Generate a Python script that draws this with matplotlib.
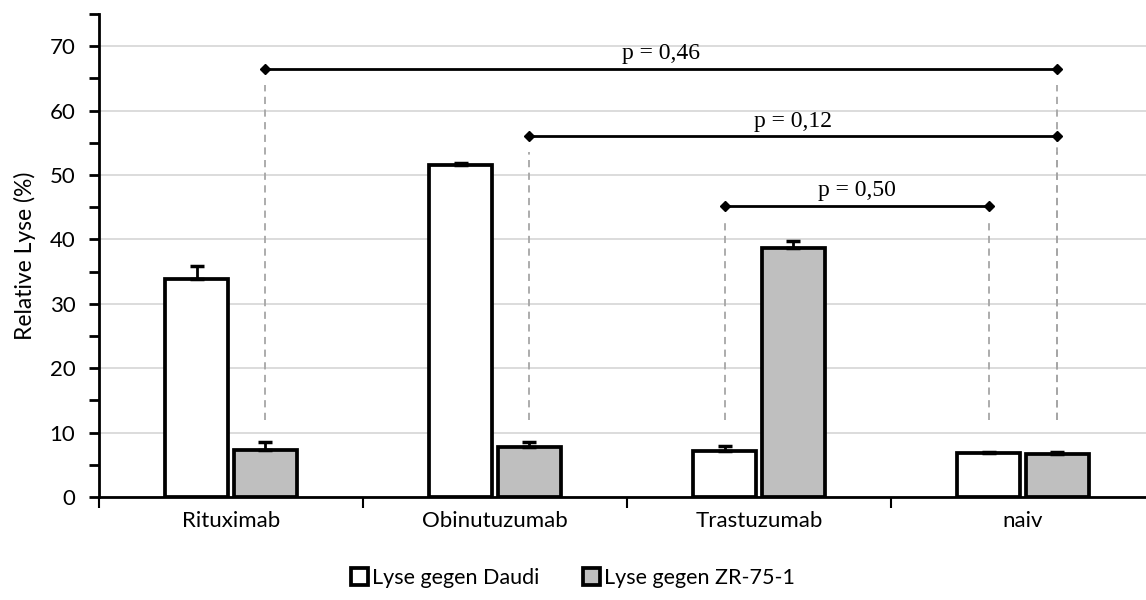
import matplotlib.pyplot as plt
import numpy as np

# data
categories = ['Rituximab', 'Obinutuzumab', 'Trastuzumab', 'naiv']
daudi = [33.8, 51.5, 7.2, 6.8]
daudi_err = [2.0, 0.4, 0.7, 0.2]
zr = [7.3, 7.8, 38.7, 6.6]
zr_err = [1.2, 0.8, 1.0, 0.4]
series_labels = ['Lyse gegen Daudi', 'Lyse gegen ZR-75-1']

# significance brackets: (from category, series), (to category, series), height, label
brackets = [
    ((0, 1), (3, 1), 66.5, 'p = 0,46'),
    ((1, 1), (3, 1), 56.0, 'p = 0,12'),
    ((2, 0), (3, 0), 45.2, 'p = 0,50'),
]

plt.rcParams['font.family'] = ['Lato', 'DejaVu Sans']

fig = plt.figure(figsize=(11.46, 6), dpi=100)
ax = fig.add_axes([99/1146, 103/600, 1056/1146, 483/600])

x = np.arange(len(categories))
w = 0.24
off = 0.13
bars1 = ax.bar(x - off, daudi, w, color='white', edgecolor='black', lw=2.7,
               label=series_labels[0], zorder=3)
bars2 = ax.bar(x + off, zr, w, color='#bfbfbf', edgecolor='black', lw=2.7,
               label=series_labels[1], zorder=3)
ax.errorbar(x - off, daudi, yerr=[np.zeros(4), daudi_err], fmt='none',
            ecolor='black', elinewidth=2, capsize=5, capthick=2.5, zorder=4)
ax.errorbar(x + off, zr, yerr=[np.zeros(4), zr_err], fmt='none',
            ecolor='black', elinewidth=2, capsize=5, capthick=2.5, zorder=4)

offs = [-off, off]
for (c1, s1), (c2, s2), h, txt in brackets:
    x1 = x[c1] + offs[s1]
    x2 = x[c2] + offs[s2]
    for xx in (x1, x2):
        ax.plot([xx, xx], [12, h - 2.5], color='#a6a6a6', ls=(0, (4, 3)), lw=1.3, zorder=2)
    ax.plot([x1, x2], [h, h], color='black', lw=2, marker='D', ms=5, zorder=5)
    ax.text((x1 + x2) / 2, h + 0.7, txt, ha='center', va='bottom',
            fontsize=17, family=['Liberation Serif', 'DejaVu Serif'])

ax.set_xlim(-0.5, 3.5)
ax.set_ylim(0, 75)
ax.set_yticks(np.arange(0, 71, 10))
ax.set_yticks(np.arange(5, 76, 10), minor=True)
ax.yaxis.grid(True, color='#d9d9d9', lw=1.3, zorder=0)
ax.set_axisbelow(True)
ax.tick_params(axis='y', which='both', direction='out', length=7, width=2,
               labelsize=16, pad=10)
ax.set_ylabel('Relative Lyse (%)', fontsize=16.5, labelpad=10)

ax.set_xticks(x)
ax.set_xticklabels(categories, fontsize=16)
ax.set_xticks(np.arange(-0.5, 3.6, 1), minor=True)
ax.tick_params(axis='x', which='major', length=0, pad=10)
ax.tick_params(axis='x', which='minor', direction='out', length=8, width=1.5)

for s in ['top', 'right']:
    ax.spines[s].set_visible(False)
ax.spines['left'].set_linewidth(2)
ax.spines['bottom'].set_linewidth(2)

fig.legend(handles=[bars1, bars2], labels=series_labels, loc='center',
           bbox_to_anchor=(0.5, 22/600), ncol=2, frameon=False,
           fontsize=15.5, handlelength=0.8, handleheight=0.8, handletextpad=0.2,
           columnspacing=2.0)

fig.savefig('out.png', dpi=100)
